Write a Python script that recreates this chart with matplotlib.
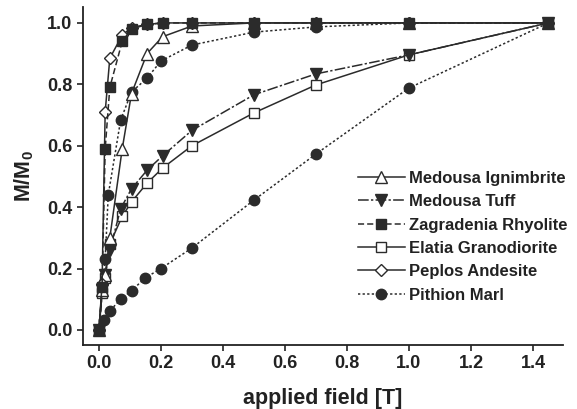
import matplotlib
matplotlib.use("Agg")
import matplotlib.pyplot as plt

plt.rcParams['font.family'] = ['Liberation Sans', 'DejaVu Sans']
plt.rcParams['font.weight'] = 'bold'

# data
ign_x = [0, 0.01, 0.02, 0.035, 0.075, 0.105, 0.155, 0.205, 0.3, 0.5, 0.7, 1.0, 1.45]
ign_y = [0, 0.13, 0.18, 0.30, 0.59, 0.77, 0.90, 0.955, 0.99, 1.0, 1.0, 1.0, 1.0]

tuff_x = [0, 0.01, 0.02, 0.035, 0.07, 0.105, 0.155, 0.205, 0.3, 0.5, 0.7, 1.0, 1.45]
tuff_y = [0, 0.13, 0.18, 0.26, 0.395, 0.46, 0.52, 0.567, 0.65, 0.766, 0.834, 0.896, 1.0]

zag_x = [0, 0.01, 0.02, 0.035, 0.075, 0.105, 0.155, 0.205, 0.3, 0.5, 0.7, 1.0, 1.45]
zag_y = [0, 0.14, 0.59, 0.79, 0.94, 0.98, 0.995, 1.0, 1.0, 1.0, 1.0, 1.0, 1.0]

ela_x = [0, 0.01, 0.02, 0.035, 0.075, 0.105, 0.155, 0.205, 0.3, 0.5, 0.7, 1.0, 1.45]
ela_y = [0, 0.12, 0.17, 0.28, 0.37, 0.417, 0.478, 0.527, 0.60, 0.707, 0.798, 0.896, 1.0]

pep_x = [0, 0.01, 0.02, 0.035, 0.075, 0.105, 0.155, 0.205, 0.3, 0.5, 0.7, 1.0, 1.45]
pep_y = [0, 0.15, 0.71, 0.885, 0.96, 0.985, 0.995, 1.0, 1.0, 1.0, 1.0, 1.0, 1.0]

pit_x = [0, 0.015, 0.035, 0.07, 0.105, 0.15, 0.2, 0.3, 0.5, 0.7, 1.0, 1.45]
pit_y = [0, 0.033, 0.062, 0.10, 0.128, 0.17, 0.20, 0.267, 0.423, 0.573, 0.788, 1.0]

pit2_x = [0, 0.02, 0.03, 0.07, 0.105, 0.155, 0.2, 0.3, 0.5, 0.7, 1.0, 1.45]
pit2_y = [0, 0.23, 0.44, 0.684, 0.775, 0.82, 0.876, 0.928, 0.97, 0.987, 1.0, 1.0]

xticks = [0.0, 0.2, 0.4, 0.6, 0.8, 1.0, 1.2, 1.4]
yticks = [0.0, 0.2, 0.4, 0.6, 0.8, 1.0]

dark = '#2b2b2b'
fig = plt.figure(figsize=(5.77, 4.09), dpi=100)
ax = fig.add_axes([0.1438, 0.1565, 0.832, 0.8265])

ms = 7.5
lw = 1.1
ax.plot(pit2_x, pit2_y, linestyle=(0, (1.5, 1.5)), color=dark, lw=lw, marker='o',
        ms=ms, mfc=dark, mec=dark, zorder=2)
ax.plot(pit_x, pit_y, linestyle=(0, (1.5, 1.5)), color=dark, lw=lw, marker='o',
        ms=ms, mfc=dark, mec=dark, zorder=2, label='Pithion Marl')
ax.plot(ela_x, ela_y, linestyle='-', color=dark, lw=lw, marker='s',
        ms=ms - 0.5, mfc='white', mec=dark, zorder=3, label='Elatia Granodiorite')
ax.plot(tuff_x, tuff_y, linestyle=(0, (7, 1.5, 1.5, 1.5)), color=dark, lw=lw, marker='v',
        ms=ms + 0.5, mfc=dark, mec=dark, zorder=3, label='Medousa Tuff')
ax.plot(ign_x, ign_y, linestyle='-', color=dark, lw=lw, marker='^',
        ms=ms + 0.5, mfc='white', mec=dark, zorder=4, label='Medousa Ignimbrite')
ax.plot(pep_x, pep_y, linestyle='-', color=dark, lw=lw, marker='D',
        ms=ms - 1.5, mfc='white', mec=dark, zorder=4, label='Peplos Andesite')
ax.plot(zag_x, zag_y, linestyle=(0, (4, 2)), color=dark, lw=lw, marker='s',
        ms=ms - 0.5, mfc=dark, mec=dark, zorder=5, label='Zagradenia Rhyolite')

ax.set_xlim(-0.0516, 1.497)
ax.set_ylim(-0.049, 1.052)
ax.set_xticks(xticks)
ax.set_yticks(yticks)
ax.set_xticklabels([f'{t:.1f}' for t in xticks])
ax.set_yticklabels([f'{t:.1f}' for t in yticks])
ax.tick_params(direction='out', length=4, width=1.2, labelsize=13, colors='#222222')
for lab in ax.get_xticklabels() + ax.get_yticklabels():
    lab.set_fontweight('bold')
for s in ['top', 'right']:
    ax.spines[s].set_visible(False)
for s in ['left', 'bottom']:
    ax.spines[s].set_linewidth(1.3)
    ax.spines[s].set_color('#222222')

ax.set_xlabel('applied field [T]', fontsize=15.5, fontweight='bold', color='#222222', labelpad=11)
ax.set_ylabel('M/M$_\\mathregular{0}$', fontsize=15.5, fontweight='bold', color='#222222', labelpad=8)

handles, labels = ax.get_legend_handles_labels()
order = ['Medousa Ignimbrite', 'Medousa Tuff', 'Zagradenia Rhyolite',
         'Elatia Granodiorite', 'Peplos Andesite', 'Pithion Marl']
hd = dict(zip(labels, handles))
leg = ax.legend([hd[o] for o in order], order, loc='upper left',
                bbox_to_anchor=(0.573, 0.515), frameon=False, fontsize=12,
                handlelength=2.8, handletextpad=0.25, labelspacing=0.5,
                borderaxespad=0, borderpad=0)
for t in leg.get_texts():
    t.set_fontweight('bold')
    t.set_color('#222222')

fig.savefig('out.png', dpi=100)
